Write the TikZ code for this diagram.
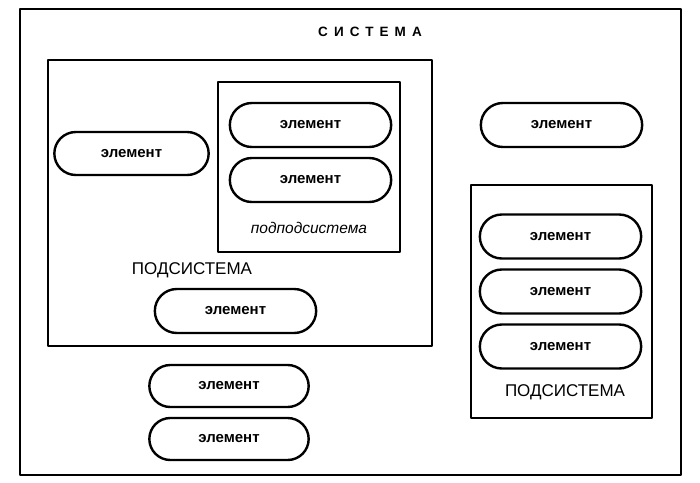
\documentclass[tikz,border=0pt]{standalone}
\usepackage{fontspec}
\setmainfont{Liberation Sans}
\newfontfamily\spacedfont[LetterSpace=45]{Liberation Sans}
\usetikzlibrary{shapes.misc, positioning}

\begin{document}
\begin{tikzpicture}[x=1pt, y=-1pt, line join=round,
    box/.style={draw, line width=2.6pt, inner sep=0pt, outer sep=0pt},
    element/.style={draw, rounded rectangle, line width=2.4pt, outer sep=0pt,
        minimum width=168pt, minimum height=44pt,
        font=\bfseries\fontsize{15}{17}\selectfont},
    label/.style={font=\fontsize{17}{19}\selectfont, inner sep=0pt},
    node distance=11pt]

\path[use as bounding box, fill=white] (0,0) rectangle (700,482);

% frames

\node[box, minimum width=661pt, minimum height=466pt] (system) at (350.5,242) {};
\node[box, minimum width=384pt, minimum height=286pt] (subsys1) at (240,203) {};
\node[box, minimum width=182pt, minimum height=170pt] (subsubsys) at (309,167) {};
\node[box, minimum width=181pt, minimum height=233pt] (subsys2) at (561.5,301.5) {};

% titles

\node[font=\spacedfont\bfseries\fontsize{13.5}{15}\selectfont, inner sep=0pt] (systitle) at (370,32) {СИСТЕМА};
\node[label] (subsys1title) at (192,270) {ПОДСИСТЕМА};
\node[label] (subsys2title) at (565,392) {ПОДСИСТЕМА};
\node[font=\itshape\fontsize{15.5}{17}\selectfont, inner sep=0pt] (subsubtitle) at (309,228) {подподсистема};

% elements

\node[element] (subsubel1) at (310.5,125) {элемент};
\node[element, below=of subsubel1] (subsubel2) {элемент};
\node[element, minimum width=161pt, minimum height=43pt] (sub1el1) at (131.5,153.5) {элемент};
\node[element] (sub1el2) at (235.5,311) {элемент};
\node[element, minimum width=166pt, minimum height=42pt] (freeel1) at (229,386) {элемент};
\node[element, minimum width=166pt, minimum height=42pt, below=of freeel1] (freeel2) {элемент};
\node[element] (freeel3) at (561.5,125) {элемент};
\node[element] (sub2el1) at (560.5,236.5) {элемент};
\node[element, below=of sub2el1] (sub2el2) {элемент};
\node[element, below=of sub2el2] (sub2el3) {элемент};

\end{tikzpicture}
\end{document}
